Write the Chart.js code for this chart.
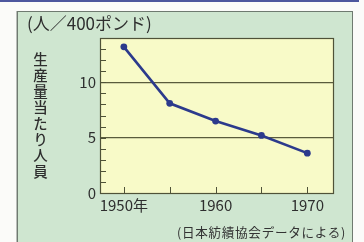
<!DOCTYPE html>
<html>
<head>
<meta charset="utf-8">
<script src="https://cdn.jsdelivr.net/npm/chart.js@4.4.1/dist/chart.umd.min.js"></script>
<style>
  html, body { margin: 0; padding: 0; background: #fbfbf9; }
  #wrap { position: relative; width: 364px; height: 242px; overflow: hidden; }
  #topline { position: absolute; left: 0; top: 0; width: 359px; height: 2px; background: #4d579e; }
  #panel { position: absolute; left: 17px; top: 11px; width: 334px; height: 240px;
           background: #cfe6d0; border: 1px solid #6f7a70; box-shadow: -1px 0 0 #b9bdb9; }
  canvas { position: absolute; left: 0; top: 0; }
  .txt { position: absolute; font-family: "Noto Sans CJK JP", "Noto Sans", sans-serif; color: #2e2e2e; white-space: nowrap; }
  #unit { left: 27px; top: 13px; font-size: 17px; line-height: 20px; }
  #ytitle { left: 32px; top: 52px; font-size: 14.5px; line-height: 16px; writing-mode: vertical-rl; text-orientation: upright; letter-spacing: 1.6px; font-weight: 500; }
  #source { right: 18px; top: 224px; font-size: 12.6px; line-height: 16px; color: #333; letter-spacing: 0.7px; }
</style>
</head>
<body>
<div id="wrap">
  <div id="topline"></div>
  <div id="panel"></div>
  <canvas id="c" width="364" height="242"></canvas>
  <div class="txt" id="unit">(人／400ポンド)</div>
  <div class="txt" id="ytitle">生産量当たり人員</div>
  <div class="txt" id="source">(日本紡績協会データによる)</div>
</div>
<script>
// ---- data ----
const years = [1950, 1955, 1960, 1965, 1970];
const workersPer400lb = [13.2, 8.1, 6.5, 5.2, 3.6];
const yLabelValues = [0, 5, 10];
const yGridValues = [5, 10];
const yMinorTicks = [1,2,3,4,5,6,7,8,9,10,11,12,13];
const xTickYears = [1950, 1955, 1960, 1965, 1970];
const xLabelMap = { 1950: '1950年', 1960: '1960', 1970: '1970' };

const plotBg = {
  id: 'plotBg',
  beforeDraw(chart) {
    const { ctx, chartArea: a } = chart;
    ctx.save();
    ctx.fillStyle = '#f8fac8';
    ctx.fillRect(a.left, a.top, a.right - a.left, a.bottom - a.top);
    ctx.restore();
  },
  beforeDatasetsDraw(chart) {
    const { ctx, chartArea: a, scales } = chart;
    ctx.save();
    ctx.strokeStyle = '#4f5238';
    ctx.lineWidth = 1;
    ctx.beginPath();
    yMinorTicks.forEach(v => {
      const y = Math.round(scales.y.getPixelForValue(v)) + 0.5;
      ctx.moveTo(a.left, y); ctx.lineTo(a.left + 6, y);
    });
    xTickYears.forEach(v => {
      const x = Math.round(scales.x.getPixelForValue(v)) + 0.5;
      ctx.moveTo(x, a.bottom); ctx.lineTo(x, a.bottom - 6);
    });
    ctx.stroke();
    ctx.lineWidth = 1.2;
    ctx.strokeRect(a.left + 0.5, a.top + 0.5, a.right - a.left, a.bottom - a.top);
    ctx.restore();
  }
};

new Chart(document.getElementById('c'), {
  type: 'line',
  data: {
    datasets: [{
      data: years.map((x, i) => ({ x, y: workersPer400lb[i] })),
      borderColor: '#2c3a8c',
      backgroundColor: '#2c3a8c',
      borderWidth: 2.6,
      pointRadius: 3.4,
      pointBorderWidth: 0,
      tension: 0,
      clip: false
    }]
  },
  options: {
    responsive: false,
    animation: false,
    devicePixelRatio: 1,
    layout: { padding: { left: 18, right: 31, top: 38, bottom: 0 } },
    plugins: { legend: { display: false }, tooltip: { enabled: false } },
    scales: {
      x: {
        type: 'linear',
        min: 1947.4,
        max: 1972.8,
        afterBuildTicks: s => { s.ticks = xTickYears.map(v => ({ value: v })); },
        afterFit: s => { s.height = 49; },
        border: { display: false },
        grid: { display: false, drawTicks: false },
        ticks: {
          autoSkip: false, maxRotation: 0, padding: 3,
          color: '#2e2e2e',
          font: { family: '"Noto Sans CJK JP", "Noto Sans", sans-serif', size: 15 },
          callback: v => xLabelMap[v] || ''
        }
      },
      y: {
        min: 0,
        max: 14,
        afterBuildTicks: s => { s.ticks = [0,1,2,3,4,5,6,7,8,9,10,11,12,13,14].map(v => ({ value: v })); },
        afterFit: s => { s.width = 82; },
        border: { display: false },
        grid: {
          drawTicks: false,
          color: c => yGridValues.includes(c.tick.value) ? '#5a5b3c' : 'rgba(0,0,0,0)',
          lineWidth: 1.2
        },
        ticks: {
          autoSkip: false, padding: 4,
          color: '#2e2e2e',
          font: { family: '"Noto Sans CJK JP", "Noto Sans", sans-serif', size: 15 },
          callback: v => yLabelValues.includes(v) ? String(v) : ''
        }
      }
    }
  },
  plugins: [plotBg]
});
</script>
</body>
</html>
